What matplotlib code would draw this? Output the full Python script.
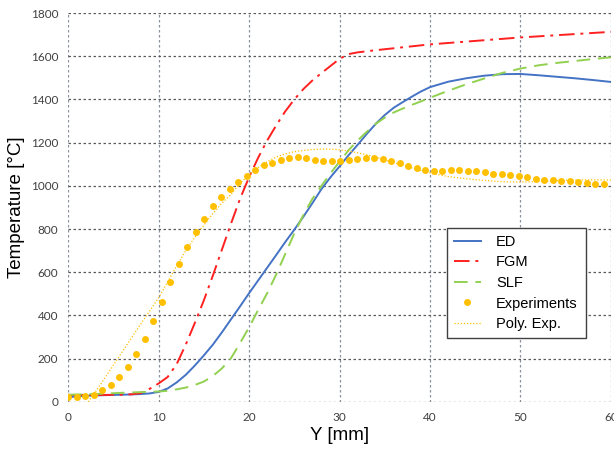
import numpy as np
import matplotlib
matplotlib.use("Agg")
import matplotlib.pyplot as plt

# ED model (solid blue)
ed_x = [0, 2, 4, 6, 8, 9, 10, 11, 12, 13, 14, 15, 16, 17, 18, 19, 20, 21, 22,
        23, 24, 25, 26, 27, 28, 29, 30, 31, 32, 33, 34, 35, 36, 37, 38, 39, 40,
        42, 44, 46, 48, 50, 52, 54, 56, 58, 60]
ed_t = [22, 28, 31, 33, 36, 39, 46, 62, 90, 125, 168, 215, 265, 322, 382, 442,
        503, 562, 621, 680, 740, 797, 857, 920, 985, 1040, 1090, 1142, 1190,
        1240, 1287, 1328, 1362, 1388, 1413, 1437, 1457, 1482, 1498, 1510, 1517,
        1518, 1512, 1505, 1498, 1490, 1481]

# FGM model (red dash-dot)
fgm_x = [0, 2, 4, 6, 7, 8, 9, 10, 11, 12, 13, 14, 15, 16, 17, 18, 19, 20, 21,
         22, 23, 24, 25, 26, 27, 28, 29, 30, 31, 32, 34, 36, 38, 40, 45, 50,
         55, 60]
fgm_t = [32, 32, 32, 33, 35, 40, 60, 85, 115, 175, 265, 365, 470, 585, 705,
         825, 940, 1040, 1130, 1210, 1280, 1345, 1400, 1448, 1488, 1522, 1555,
         1588, 1610, 1618, 1628, 1637, 1646, 1655, 1671, 1687, 1700, 1713]

# SLF model (green dashed)
slf_x = [0, 2, 4, 6, 8, 10, 11, 12, 13, 14, 15, 16, 17, 18, 19, 20, 21, 22,
         23, 24, 25, 26, 27, 28, 29, 30, 31, 32, 33, 34, 35, 36, 37, 38, 39,
         40, 42, 44, 46, 48, 50, 52, 54, 56, 58, 60]
slf_t = [33, 35, 38, 42, 45, 48, 51, 58, 66, 78, 94, 120, 155, 202, 272, 345,
         425, 503, 590, 685, 780, 865, 940, 1000, 1058, 1112, 1165, 1210, 1250,
         1287, 1316, 1340, 1358, 1375, 1391, 1408, 1440, 1470, 1497, 1523,
         1543, 1558, 1569, 1578, 1587, 1595]

# measured temperatures
exp_x = np.linspace(0, 59.2, 64)
exp_t = [22, 22, 25, 31, 55, 77, 114, 163, 222, 293, 373, 460, 554, 640, 717,
         785, 847, 905, 949, 987, 1018, 1046, 1073, 1095, 1107, 1120, 1127,
         1132, 1130, 1120, 1117, 1114, 1115, 1118, 1124, 1128, 1128, 1123,
         1117, 1104, 1092, 1083, 1073, 1070, 1070, 1073, 1073, 1070, 1067,
         1063, 1055, 1054, 1049, 1047, 1040, 1032, 1027, 1026, 1024, 1021,
         1017, 1013, 1010, 1007]

# polynomial trend of the experiments
poly_x = [2.2, 3, 4, 5, 6, 7, 8, 9, 10, 11, 12, 13, 14, 15, 16, 17, 18, 19,
          20, 21, 22, 23, 24, 25, 26, 27, 28, 29, 30, 31, 32, 33, 34, 35, 36,
          37, 38, 39, 40, 42, 44, 46, 48, 50, 52, 54, 56, 58, 60]
poly_t = [0, 45, 107, 170, 233, 296, 359, 420, 482, 555, 630, 700, 762, 818,
          872, 920, 960, 1012, 1052, 1085, 1112, 1133, 1148, 1158, 1164, 1168,
          1170, 1170, 1167, 1161, 1153, 1144, 1133, 1120, 1108, 1095, 1083,
          1071, 1060, 1043, 1033, 1025, 1019, 1018, 1020, 1024, 1027, 1028,
          1027]

fig = plt.figure(figsize=(6.14, 4.5), dpi=100)
ax = fig.add_axes([0.111, 0.107, 0.884, 0.864])

ax.plot(ed_x, ed_t, color="#4472C4", lw=1.4, label="ED")
ax.plot(fgm_x, fgm_t, color="#FF2020", lw=1.4, dashes=(8, 3, 1.5, 3),
        label="FGM")
ax.plot(slf_x, slf_t, color="#92D050", lw=1.4, dashes=(7, 4), label="SLF")
ax.plot(exp_x, exp_t, "o", color="#FFC000", ms=5, mec="none",
        label="Experiments")
ax.plot(poly_x, poly_t, color="#FFC000", lw=0.9, dashes=(1, 1.5),
        label="Poly. Exp.")

ax.set_xlim(0, 60)
ax.set_ylim(0, 1800)
ax.set_xticks(range(0, 61, 10))
ax.set_yticks(range(0, 1801, 200))

for s in ax.spines.values():
    s.set_visible(False)
ax.tick_params(length=0, labelsize=8.5, labelcolor="#404040", pad=7)
for lbl in ax.get_xticklabels() + ax.get_yticklabels():
    lbl.set_family("Lato")

ax.grid(axis="y", color="#5a5a5a", lw=0.9, dashes=(2, 2))
ax.grid(axis="x", color="#8a909c", lw=0.9, dashes=(2, 2))
ax.set_axisbelow(True)

ax.set_xlabel("Y [mm]", fontsize=13.5, family="Liberation Sans", labelpad=3)
ax.set_ylabel("Temperature [°C]", fontsize=13.5, family="Liberation Sans",
              labelpad=4)

leg = ax.legend(loc="lower left", bbox_to_anchor=(0.698, 0.165, 0.256, 0.28),
                mode="expand", borderaxespad=0, fancybox=False, framealpha=1,
                edgecolor="#404040", prop={"family": "Liberation Sans",
                                            "size": 10.5},
                handlelength=1.9, labelspacing=0.45, borderpad=0.45,
                handletextpad=1.0)
leg.get_frame().set_linewidth(1.0)

fig.savefig("out.png", dpi=100)
